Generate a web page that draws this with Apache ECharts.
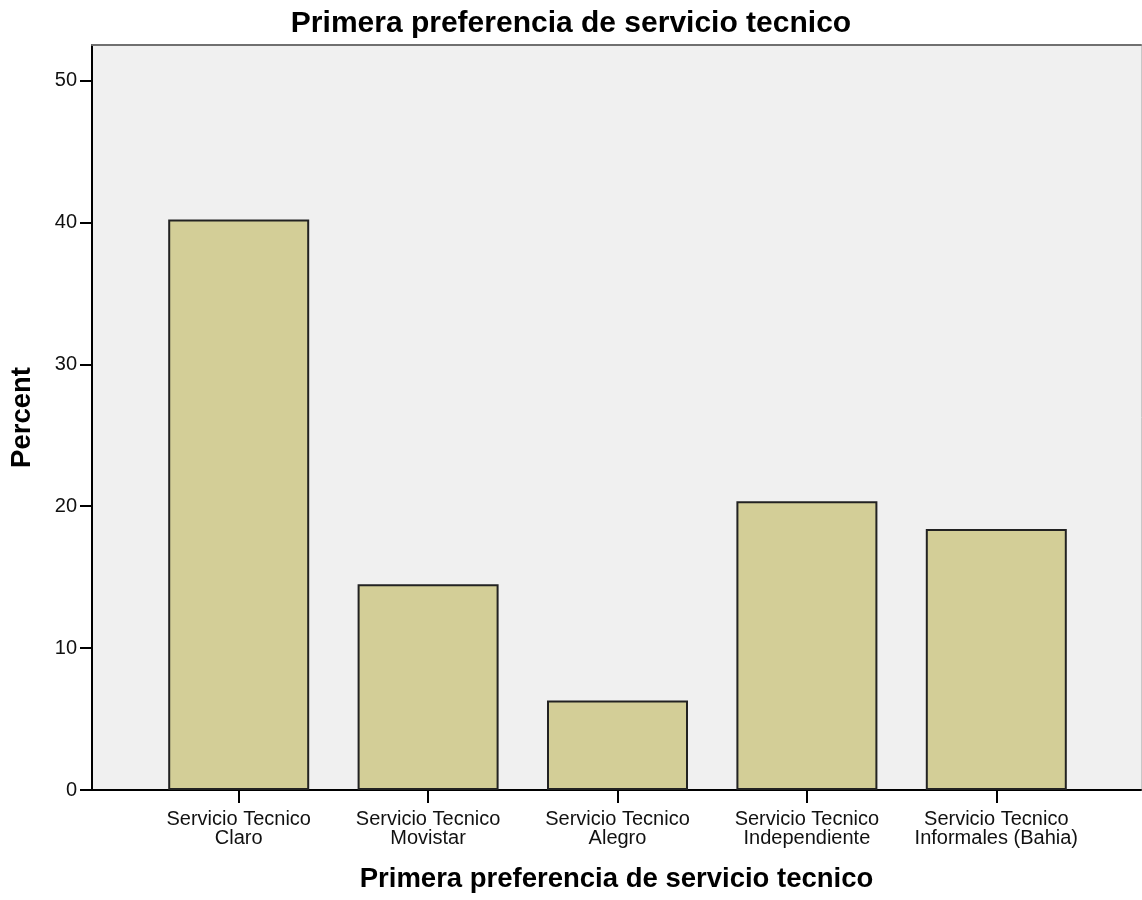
<!DOCTYPE html>
<html>
<head>
<meta charset="utf-8">
<script src="https://cdn.jsdelivr.net/npm/echarts@6/dist/echarts.min.js"></script>
<style>
  html, body { margin: 0; padding: 0; background: #fff; }
  #chart { width: 1142px; height: 900px; }
</style>
</head>
<body>
<div id="chart"></div>
<script>
const categories = [
  'Servicio Tecnico\nClaro',
  'Servicio Tecnico\nMovistar',
  'Servicio Tecnico\nAlegro',
  'Servicio Tecnico\nIndependiente',
  'Servicio Tecnico\nInformales (Bahia)',
]
const percents = [40.2, 14.5, 6.3, 20.35, 18.4]
const yTicks = [0, 10, 20, 30, 40, 50]
const yMax = 52.5

const font = "'Liberation Sans', Arial, sans-serif"
const chart = echarts.init(document.getElementById('chart'))

// frame axes of the background grid (no ticks, no labels)
function frameAxis(extra) {
  return Object.assign({
    gridIndex: 0,
    type: 'value',
    min: 0,
    max: 1,
    axisTick: { show: false },
    axisLabel: { show: false },
    splitLine: { show: false },
  }, extra)
}

chart.setOption({
  backgroundColor: '#fff',
  animation: false,
  title: {
    text: 'Primera preferencia de servicio tecnico',
    left: 'center',
    top: 4,
    textStyle: { fontFamily: font, fontSize: 30, fontWeight: 'bold', color: '#000' },
  },
  grid: [
    { left: 91, right: 1, top: 45, bottom: 110, show: true, backgroundColor: '#f0f0f0', borderWidth: 0 },
    { left: 144, right: 51, top: 45, bottom: 110 },
  ],
  xAxis: [
    frameAxis({
      position: 'bottom',
      name: 'Primera preferencia de servicio tecnico',
      nameLocation: 'middle',
      nameGap: 75,
      nameTextStyle: { fontFamily: font, fontSize: 27.5, fontWeight: 'bold', color: '#000' },
      axisLine: { show: true, onZero: false, lineStyle: { color: '#000', width: 2 } },
    }),
    frameAxis({
      position: 'top',
      axisLine: { show: true, onZero: false, lineStyle: { color: '#707070', width: 2 } },
    }),
    {
      gridIndex: 1,
      type: 'category',
      data: categories,
      axisLine: { show: false },
      axisTick: { show: true, alignWithLabel: true, length: 13, lineStyle: { color: '#000', width: 2 } },
      axisLabel: { interval: 0, fontFamily: font, fontSize: 20, lineHeight: 19, color: '#111', margin: 20 },
    },
  ],
  yAxis: [
    {
      gridIndex: 0,
      type: 'value',
      min: 0,
      max: yMax,
      name: 'Percent',
      nameLocation: 'middle',
      nameGap: 56,
      nameTextStyle: { fontFamily: font, fontSize: 27.5, fontWeight: 'bold', color: '#000' },
      axisLine: { show: true, onZero: false, lineStyle: { color: '#000', width: 2 } },
      axisTick: { show: true, length: 12, customValues: yTicks, lineStyle: { color: '#000', width: 2 } },
      axisLabel: { customValues: yTicks, fontFamily: font, fontSize: 20, color: '#111', margin: 15 },
      splitLine: { show: false },
    },
    frameAxis({
      position: 'right',
      max: yMax,
      axisLine: { show: true, onZero: false, lineStyle: { color: '#c8c8c8', width: 1 } },
    }),
    {
      gridIndex: 1,
      type: 'value',
      min: 0,
      max: yMax,
      show: false,
    },
  ],
  series: [
    {
      type: 'bar',
      xAxisIndex: 2,
      yAxisIndex: 2,
      data: percents,
      barWidth: 141,
      itemStyle: { color: '#d3ce97', borderColor: '#222', borderWidth: 2 },
    },
  ],
})
</script>
</body>
</html>
